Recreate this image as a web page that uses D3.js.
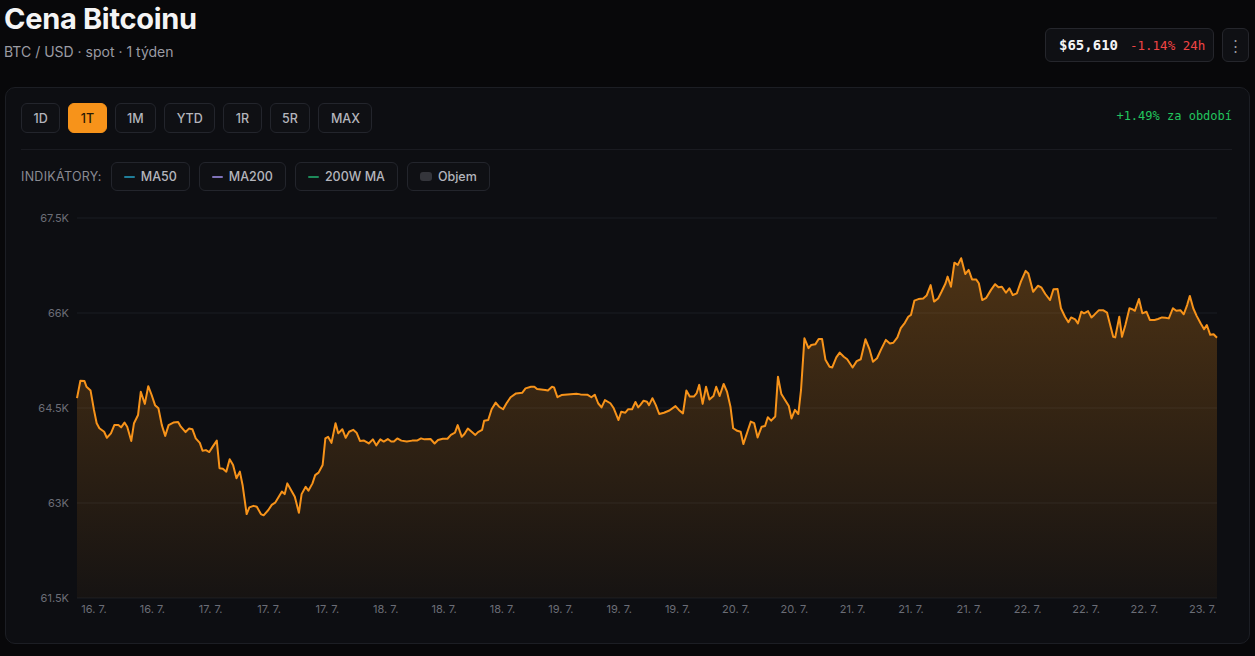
<!DOCTYPE html>
<html>
<head>
<meta charset="utf-8">
<script src="https://cdn.jsdelivr.net/npm/d3@7"></script>
<style>
body { margin:0; background:#08080a; font-family: Inter, "Noto Sans", sans-serif; width:1255px; height:656px; overflow:hidden; position:relative; }
.title { position:absolute; left:4px; top:2px; font-size:29px; font-weight:700; color:#f4f4f5; letter-spacing:-0.3px; line-height:34px; }
.subtitle { position:absolute; left:4px; top:43px; font-size:14px; color:#9b9ba3; line-height:18px; }
.price-box { position:absolute; left:1045px; top:28px; width:169px; height:34px; box-sizing:border-box; border:1px solid #25262c; border-radius:6px; background:#0f1014; display:flex; align-items:center; padding-left:13px; font-family:"DejaVu Sans Mono", monospace; }
.price { color:#f4f4f5; font-weight:700; font-size:14px; }
.change { color:#f04444; font-size:12.5px; margin-left:12px; }
.menu { position:absolute; left:1222px; top:28px; width:27px; height:34px; box-sizing:border-box; border:1px solid #25262c; border-radius:6px; background:#0f1014; color:#9a9aa0; font-size:15px; display:flex; align-items:center; justify-content:center; }
.card { position:absolute; left:5px; top:87px; width:1245px; height:557px; box-sizing:border-box; border:1px solid #1c1e24; border-radius:10px; background:#0d0e12; }
.btn-row { position:absolute; left:21px; top:103px; display:flex; gap:8px; }
.btn { height:30px; box-sizing:border-box; border:1px solid #23252c; border-radius:6px; padding:0 11.5px; display:flex; align-items:center; font-size:12.5px; color:#b4b5bc; background:#0f1014; font-weight:500; }
.btn.active { background:#f7931a; border-color:#f7931a; color:#2a1a04; }
.period { position:absolute; right:23px; top:109px; font-family:"DejaVu Sans Mono", monospace; font-size:12px; color:#22c55e; }
.sep { position:absolute; left:21px; top:149px; width:1211px; height:1px; background:#1a1b21; }
.ind-row { position:absolute; left:21px; top:162px; display:flex; gap:9px; align-items:center; }
.ind-label { font-size:12.5px; color:#8a8b93; letter-spacing:0.3px; }
.chip { height:29px; box-sizing:border-box; border:1px solid #23252c; border-radius:6px; padding:0 12px; display:flex; align-items:center; gap:6px; font-size:12.5px; color:#b4b5bc; background:#0f1014; font-weight:500; }
.sw { width:11px; height:2px; border-radius:1px; }
.sw.box { width:12px; height:9px; border-radius:3px; }
svg { position:absolute; left:0; top:0; }
</style>
</head>
<body>
<script>
// BTC/USD spot, 1 week, hours from start
const hours = [
  0, 0.5, 1.1, 1.4, 2.0, 2.5, 2.9, 3.3, 4.0, 4.4,
  5.0, 5.5, 6.1, 6.5, 7.0, 7.4, 8.0, 8.4, 9.0, 9.4,
  10.0, 10.5, 11.0, 11.5, 12.0, 12.5, 13.0, 13.5, 14.2, 14.9,
  15.3, 16.0, 16.5, 17.0, 17.5, 18.1, 18.5, 19.0, 19.5, 20.0,
  20.6, 21.0, 21.5, 22.0, 22.5, 23.0, 23.5, 24.0, 24.4, 25.0,
  25.4, 26.0, 26.5, 27.1, 27.5, 28.2, 28.7, 29.2, 29.8, 30.2,
  30.6, 31.0, 31.6, 32.1, 32.7, 33.1, 33.7, 34.1, 34.7, 35.1,
  35.6, 36.2, 36.6, 37.0, 37.5, 38.1, 38.5, 39.1, 39.6, 40.1,
  40.7, 41.2, 41.7, 42.3, 43.0, 43.6, 44.1, 44.7, 45.2, 45.8,
  46.3, 46.7, 47.2, 47.8, 48.6, 49.4, 50.1, 50.7, 51.2, 52.1,
  52.7, 53.2, 53.9, 54.6, 55.1, 55.7, 56.1, 56.7, 57.1, 57.6,
  58.2, 58.7, 59.1, 59.7, 60.0, 60.6, 61.1, 61.7, 62.2, 62.8,
  63.3, 63.9, 64.7, 65.6, 66.1, 66.9, 67.4, 67.8, 69.0, 69.4,
  70.0, 70.3, 70.8, 71.4, 72.3, 73.6, 74.2, 75.2, 75.8, 76.3,
  76.8, 77.3, 77.8, 78.6, 79.1, 79.8, 80.2, 80.8, 81.2, 81.8,
  82.3, 82.7,
  83.0, 83.5, 84.0, 84.3, 84.8, 85.3, 85.8, 86.5, 87.3, 88.2,
  88.7, 89.3, 89.8, 90.3, 90.9, 91.3, 91.7, 92.2, 92.7, 93.2,
  93.8, 94.2, 94.7, 95.3, 95.8, 96.3, 96.7, 97.3, 97.8, 98.2,
  98.8, 99.3, 99.8, 100.3, 100.9, 101.4, 101.8, 102.3, 102.9, 103.3,
  103.8, 104.3, 104.9, 105.3, 105.8, 106.3, 106.7, 107.2, 107.8, 108.2,
  108.8, 109.3, 109.8, 110.3, 110.9, 111.3, 111.9, 112.4, 113.0, 113.5,
  114.3, 114.9, 115.5, 116.2, 116.8, 117.3, 117.9, 118.5, 119.2, 119.8,
  120.3, 120.9, 121.4, 122.0, 122.5, 122.9, 123.4, 124.0, 124.7, 125.2,
  125.8, 126.3, 126.9, 127.4, 128.0, 128.3, 128.8, 129.3, 129.8, 130.3,
  130.9, 131.4, 131.9, 132.5, 132.9, 133.4, 134.0, 134.7, 135.3, 135.8,
  136.3, 136.9, 137.4, 137.9, 138.5, 139.1, 139.8, 140.2, 140.9, 141.6,
  142.1, 142.7, 143.4, 143.9, 144.5, 145.0, 145.6, 146.1, 146.5, 147.1,
  147.5, 148.0, 148.4, 149.0, 149.5, 149.9, 150.6, 151.2, 151.8, 152.2,
  152.7, 153.0, 153.6, 154.0, 154.5, 155.1, 155.5, 155.9, 156.5, 157.0,
  157.6, 158.1, 158.8, 159.3, 159.9, 160.4, 160.9, 161.5, 162.0, 162.6,
  163.1, 163.6, 164.0, 164.5, 165.0, 165.6, 166.1, 166.5, 167.0, 167.5, 168.0
];

const prices = [
  64655, 64930, 64925, 64835, 64775, 64470, 64260, 64180, 64125, 64030,
  64100, 64230, 64230, 64195, 64270, 64205, 63980, 64260, 64390, 64755,
  64565, 64845, 64705, 64545, 64495, 64230, 64060, 64230, 64270, 64280,
  64205, 64120, 64175, 64165, 64020, 63950, 63825, 63835, 63805, 63890,
  63985, 63550, 63540, 63495, 63690, 63600, 63390, 63495, 63285, 62825,
  62930, 62955, 62940, 62825, 62805, 62890, 62970, 63005, 63110, 63180,
  63140, 63310, 63195, 63100, 62845, 63140, 63255, 63195, 63310, 63440,
  63480, 63600, 64020, 64045, 63950, 64260, 64100, 64165, 64030, 64125,
  64155, 64110, 63980, 63985, 63940, 64005, 63910, 64005, 63970, 64010,
  63970, 63970, 64020, 63985, 63970, 63985, 63985, 64020, 64005, 64010,
  63940, 63995, 64015, 64015, 64075, 64110, 64230, 64045, 64090, 64175,
  64120, 64075, 64120, 64155, 64300, 64310, 64480, 64585, 64520, 64480,
  64575, 64670, 64730, 64740, 64810, 64835, 64835, 64800, 64785, 64775,
  64835, 64825, 64670, 64705, 64715, 64725, 64715, 64710, 64670, 64710,
  64575, 64510, 64625, 64575, 64495, 64310, 64440, 64425, 64480, 64480,
  64595, 64510,
  64545, 64615, 64600, 64545, 64655, 64545, 64405, 64425, 64460, 64530,
  64470, 64415, 64775, 64680, 64680, 64730, 64865, 64565, 64835, 64635,
  64690, 64835, 64690, 64880, 64755, 64520, 64180, 64140, 64125, 63930,
  64125, 64285, 64260, 64035, 64205, 64215, 64355, 64300, 64365, 64995,
  64720, 64635, 64530, 64335, 64470, 64405, 64785, 65600, 65445, 65495,
  65505, 65590, 65590, 65260, 65150, 65140, 65300, 65375, 65310, 65270,
  65140, 65240, 65270, 65585, 65425, 65230, 65285, 65425, 65575, 65520,
  65530, 65615, 65760, 65845, 65940, 65970, 66195, 66220, 66230, 66275,
  66440, 66180, 66230, 66335, 66470, 66575, 66415, 66795, 66760, 66865,
  66615, 66680, 66530, 66530, 66470, 66205, 66240, 66365, 66455, 66405,
  66415, 66320, 66390, 66285, 66310, 66495, 66665, 66625, 66335, 66430,
  66405, 66300, 66205, 66375, 66380, 66075, 65940, 65855, 65930, 65900,
  65835, 66020, 65995, 66030, 65930, 65970, 66045, 66045, 66005, 65835,
  65625, 65615, 65940, 65625, 65810, 66075, 66060, 66035, 66220, 65995,
  66020, 65890, 65890, 65905, 65930, 65925, 65915, 66075, 66035, 66045,
  65980, 66125, 66270, 66075, 65955, 65835, 65745, 65810, 65655, 65665, 65610
];

const yTicks = [61500, 63000, 64500, 66000, 67500];
const xTickHours = [2.5, 11.1, 19.7, 28.3, 36.9, 45.5, 54.1, 62.7, 71.3, 79.9,
                    88.5, 97.1, 105.7, 114.3, 122.9, 131.5, 140.1, 148.7, 157.3, 165.9];
const xTickLabels = ["16. 7.", "16. 7.", "17. 7.", "17. 7.", "17. 7.", "18. 7.", "18. 7.", "18. 7.", "19. 7.", "19. 7.",
                     "19. 7.", "20. 7.", "20. 7.", "21. 7.", "21. 7.", "21. 7.", "22. 7.", "22. 7.", "22. 7.", "23. 7."];
const ranges = ["1D", "1T", "1M", "YTD", "1R", "5R", "MAX"];
const indicators = ["MA50", "MA200", "200W MA", "Objem"];
const indicatorColors = ["#1f7d99", "#7f72b8", "#1d8a5a", "#34353b"];

const lastPrice = "$65,610";
const change24h = "-1.14% 24h";
const periodChange = "+1.49% za období";

const body = d3.select("body");

function createHeader() {
  body.append("div").attr("class", "title").text("Cena Bitcoinu");
  body.append("div").attr("class", "subtitle").text("BTC / USD · spot · 1 týden");
  var box = body.append("div").attr("class", "price-box");
  box.append("span").attr("class", "price").text(lastPrice);
  box.append("span").attr("class", "change").text(change24h);
  body.append("div").attr("class", "menu").text("⋮");
}

function createControls() {
  body.append("div").attr("class", "card");
  body.append("div").attr("class", "btn-row")
    .selectAll("div").data(ranges).enter().append("div")
    .attr("class", function(d){ return d == "1T" ? "btn active" : "btn"; })
    .text(function(d){ return d; });
  body.append("div").attr("class", "period").text(periodChange);
  body.append("div").attr("class", "sep");

  var row = body.append("div").attr("class", "ind-row");
  row.append("div").attr("class", "ind-label").text("INDIKÁTORY:");
  var chips = row.selectAll(".chip").data(indicators).enter().append("div").attr("class", "chip");
  chips.append("span")
    .attr("class", function(d){ return d == "Objem" ? "sw box" : "sw"; })
    .style("background", function(d, i){ return indicatorColors[i]; });
  chips.append("span").text(function(d){ return d; });
}

function createChart() {
  var left = 77, right = 1217, top = 218, bottom = 598;

  var svg = body.append("svg").attr("width", 1255).attr("height", 656);

  var x = d3.scaleLinear().domain([0, 168]).range([left, right]);
  var y = d3.scaleLinear().domain([61500, 67500]).range([bottom, top]);

  var grad = svg.append("defs").append("linearGradient")
    .attr("id", "fillGrad")
    .attr("gradientUnits", "userSpaceOnUse")
    .attr("x1", 0).attr("x2", 0)
    .attr("y1", top).attr("y2", bottom);
  grad.append("stop").attr("offset", "0%").attr("stop-color", "#f7931a").attr("stop-opacity", 0.3);
  grad.append("stop").attr("offset", "100%").attr("stop-color", "#f7931a").attr("stop-opacity", 0.04);

  // gridlines
  svg.append("g").selectAll("line").data(yTicks).enter().append("line")
    .attr("x1", left).attr("x2", right)
    .attr("y1", function(d){ return y(d); }).attr("y2", function(d){ return y(d); })
    .attr("stroke", "#1b1c22").attr("stroke-width", 1);

  // y labels
  svg.append("g").selectAll("text").data(yTicks).enter().append("text")
    .attr("x", left - 8)
    .attr("y", function(d){ return y(d) + 4; })
    .attr("text-anchor", "end")
    .attr("fill", "#6b6d76")
    .style("font-size", "11px")
    .text(function(d){ return (d / 1000) + "K"; });

  // x labels
  svg.append("g").selectAll("text").data(xTickHours).enter().append("text")
    .attr("x", function(d){ return x(d); })
    .attr("y", 613)
    .attr("text-anchor", "middle")
    .attr("fill", "#6b6d76")
    .style("font-size", "11px")
    .text(function(d, i){ return xTickLabels[i]; });

  var points = hours.map(function(h, i){ return [h, prices[i]]; });

  var area = d3.area()
    .x(function(d){ return x(d[0]); })
    .y0(bottom)
    .y1(function(d){ return y(d[1]); });

  var line = d3.line()
    .x(function(d){ return x(d[0]); })
    .y(function(d){ return y(d[1]); });

  svg.append("path").datum(points)
    .attr("d", area)
    .attr("fill", "url(#fillGrad)");

  svg.append("path").datum(points)
    .attr("d", line)
    .attr("fill", "none")
    .attr("stroke", "#f7931a")
    .attr("stroke-width", 2)
    .attr("stroke-linejoin", "round");
}

createHeader();
createControls();
createChart();
</script>
</body>
</html>
